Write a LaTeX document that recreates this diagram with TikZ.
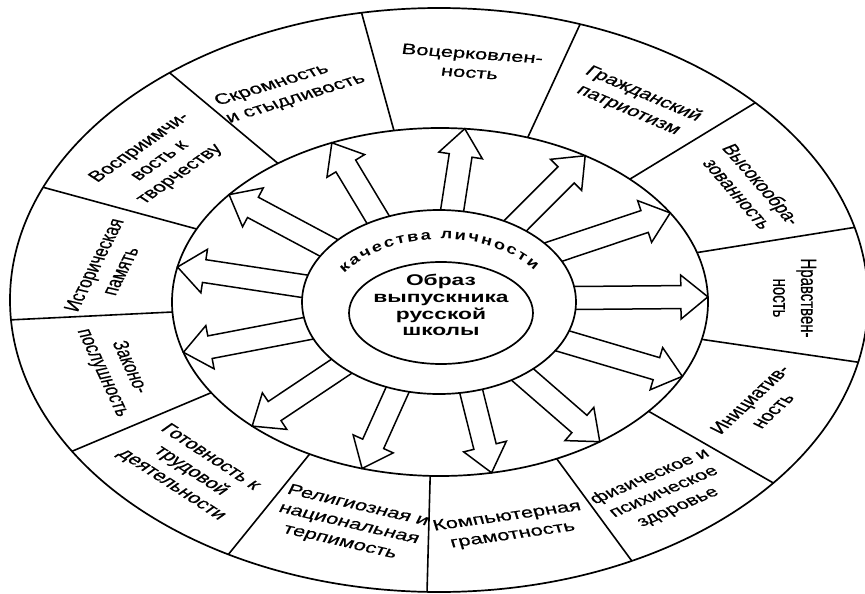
\documentclass[tikz,border=0pt]{standalone}
\usepackage{fontspec}
\setmainfont{Liberation Sans}
\newfontfamily\lblfont[FakeBold=0.5]{Liberation Sans}
\newfontfamily\arcfont[FakeStretch=1.3]{Liberation Sans}
\usetikzlibrary{calc,decorations.text}

\tikzset{
  ring/.style={line width=1.7pt},
  divider/.style={line width=1.6pt},
  hollow/.style={line width=1.5pt, fill=white, line join=miter},
  lbl/.style={font=\lblfont\fontsize{15}{19}\selectfont, align=center, inner sep=0pt},
  corelbl/.style={font=\bfseries\fontsize{15.5}{16.8}\selectfont, align=center, inner sep=0pt},
}

\newcommand\hollowarrow[2]{%
  \coordinate (hb) at ($(#1)!-10pt!(#2)$);
  \coordinate (hh) at ($(#2)!27pt!(#1)$);
  \draw[hollow] ($(hb)!11.5pt!90:(#2)$) -- ($(hh)!11.5pt!90:(#2)$)
     -- ($(hh)!22pt!90:(#2)$) -- (#2) -- ($(hh)!22pt!-90:(#2)$)
     -- ($(hh)!11.5pt!-90:(#2)$) -- ($(hb)!11.5pt!-90:(#2)$);
}

\begin{document}
\begin{tikzpicture}[x=1pt,y=1pt]
\useasboundingbox (0,0) rectangle (865,-594);
\fill[white] (0,0) rectangle (865,-594);

\coordinate (co) at (439,-300);
\coordinate (cm) at (440,-302);
\coordinate (ci) at (439,-302);
\coordinate (cc) at (441,-313);

% rings
\draw[ring] (co) ellipse [x radius=429, y radius=292];
\draw[ring] (cm) ellipse [x radius=268, y radius=174];

% dividers of the outer ring
\foreach \a/\b [count=\i] in {99.9/100.4, 70.9/70.8, 44.9/42.5, 16.5/14.4,
    -12.4/-12.3, -38.9/-38.8, -64.2/-63.3, -92.1/-91.6, -119.1/-119.4,
    -148.6/-148.8, 183.3/183.9, 155.2/157.3, 127.2/128.9} {
  \coordinate (dm\i) at ($(cm)+(\a:268 and 174)$);
  \coordinate (do\i) at ($(co)+(\b:429 and 292)$);
  \draw[divider] (dm\i) -- (do\i);
}

% hollow arrows
\foreach \a/\b [count=\i] in {143.8/141.9, 170.1/168.4, 196.7/196.8, 224.5/225.5,
    252.4/253.1, 283.6/281.1, 307.7/306.6, 334.9/334.7, 2.5/1.7, 33/30.8,
    56.1/57.2, 84.5/84.7, 116.4/113.8} {
  \coordinate (ab\i) at ($(ci)+(\a:137 and 92)$);
  \coordinate (at\i) at ($(cm)+(\b:268 and 174)$);
  \hollowarrow{ab\i}{at\i}
}

% inner ring and core
\draw[ring, fill=white] (ci) ellipse [x radius=137, y radius=92];
\draw[ring] (cc) ellipse [x radius=92, y radius=51];

% curved text
\path[decorate, decoration={text along path, text align=fit to path,
   text={|\arcfont\bfseries\fontsize{14}{14}\selectfont|качества личности}}]
   ($(cc)+(148:114 and 74)$) arc[start angle=148, end angle=35, x radius=114, y radius=74];

% labels (drawn in a horizontally stretched frame)
\begin{scope}[xscale=1.47, every node/.append style={transform shape}]
\node[corelbl] (core) at (300,-305) {Образ\\выпускника\\русской\\школы};
\node[lbl, rotate=-5.9] (n1) at (320.4,-63) {Воцерковлен-\\ность};
\node[lbl, rotate=24.2, align=left] (n2) at (197.3,-90) {Скромность\\и стыдливость};
\node[lbl, rotate=-32] (n3) at (432.7,-102) {Гражданский\\патриотизм};
\node[lbl, rotate=-59.4] (n4) at (510.2,-189) {Высокообра-\\зованность};
\node[lbl, rotate=-90] (n5) at (540.5,-298) {Нравствен-\\ность};
\node[lbl, rotate=53.9] (n6) at (517.7,-405) {Инициатив-\\ность};
\node[lbl, rotate=32, font=\lblfont\fontsize{14.5}{18}\selectfont] (n7) at (451.7,-492) {физическое и\\психическое\\здоровье};
\node[lbl, rotate=11.7] (n8) at (346.9,-526) {Компьютерная\\грамотность};
\node[lbl, rotate=-18.7] (n9) at (237.4,-524) {Религиозная и\\национальная\\терпимость};
\node[lbl, rotate=-43.7] (n10) at (129.9,-471) {Готовность к\\трудовой\\деятельности};
\node[lbl, rotate=-72.4] (n11) at (78.9,-370) {Законо-\\послушность};
\node[lbl, rotate=70.9] (n12) at (72.8,-268) {Историческая\\память};
\node[lbl, rotate=45.8] (n13) at (108.8,-161) {Восприимчи-\\вость к\\творчеству};
\end{scope}
\end{tikzpicture}
\end{document}
